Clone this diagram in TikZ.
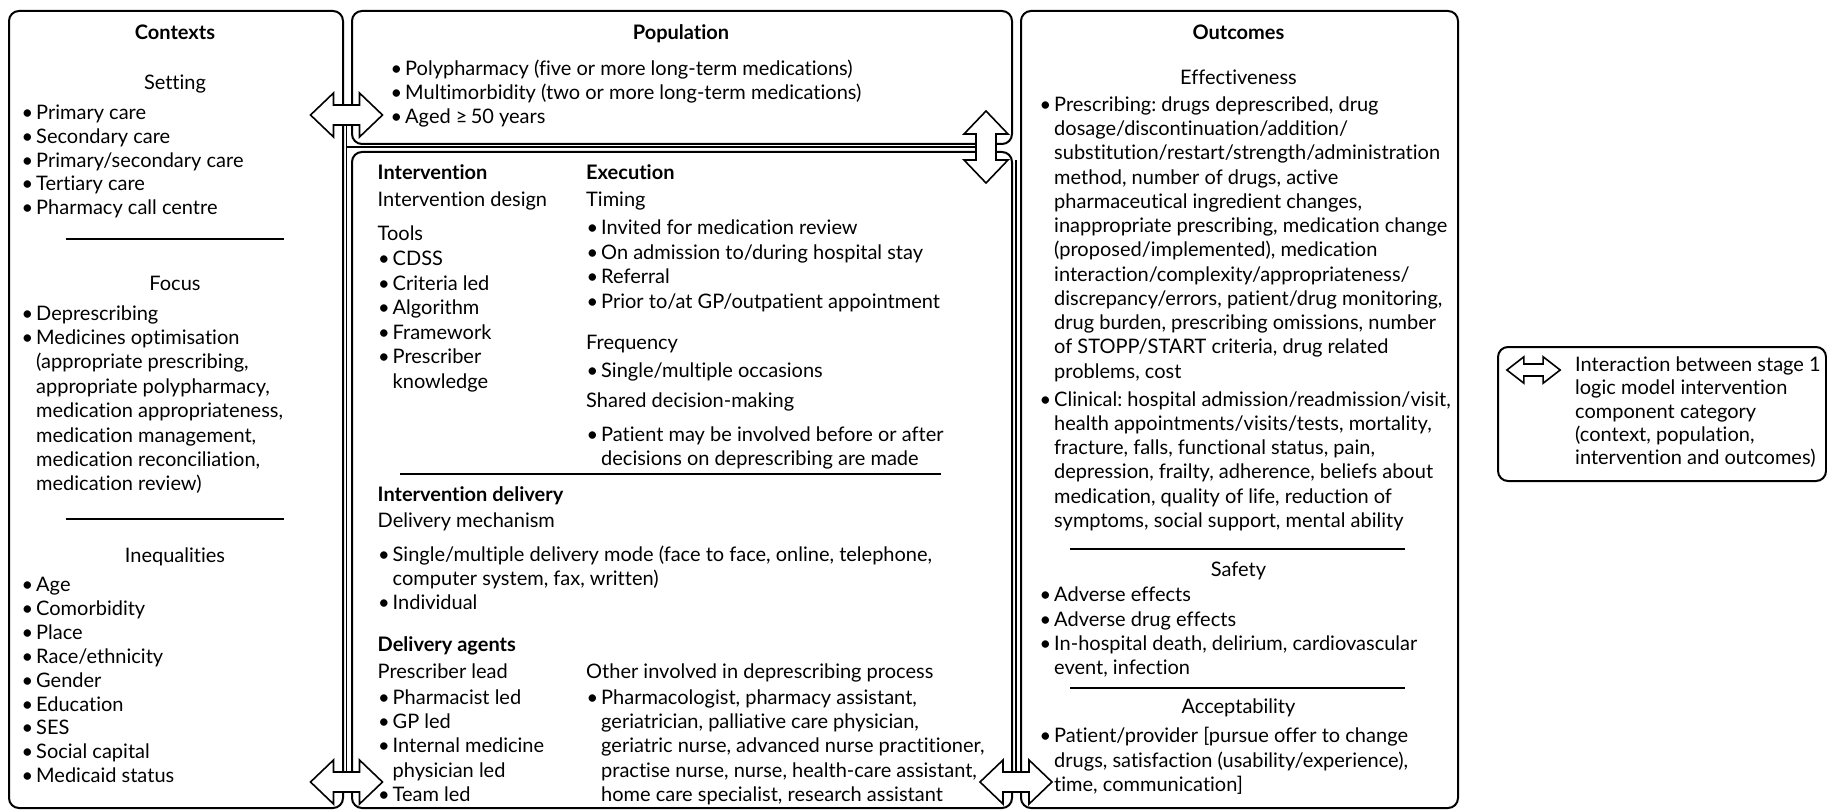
\documentclass[tikz,border=0pt]{standalone}
\usepackage{fontspec}
\setmainfont{Lato}[Ligatures=NoCommon]
\frenchspacing

\newcommand\bodysize{\fontsize{20}{24}\selectfont}
\newcommand\bulit{\makebox[14.5pt][l]{\textbullet}}
\newcommand\indt{\hspace*{14.5pt}}

\tikzset{
  panel/.style={draw, line width=2pt, rounded corners=10pt, anchor=north west,
    inner sep=0pt},
  txt/.style={anchor=base west, inner sep=0pt, font=\bodysize},
  bhead/.style={anchor=base west, inner sep=0pt, font=\bodysize\bfseries},
  head/.style={anchor=base, inner sep=0pt, font=\bodysize\bfseries},
  sub/.style={anchor=base, inner sep=0pt, font=\bodysize},
  rulel/.style={line width=2pt},
  tube/.style={line width=1.6pt},
  arrowshape/.style={draw, fill=white, line width=1.6pt, line join=miter},
  pics/dblarrow/.style={code={
    \draw[arrowshape] (-36,0) -- (-13,-22) -- (-13,-10) -- (13,-10) -- (13,-22)
      -- (36,0) -- (13,22) -- (13,10) -- (-13,10) -- (-13,22) -- cycle;
  }}
}

% one text node per line: name prefix, x, first baseline, line spacing, lines separated by |
\ExplSyntaxOn
\NewDocumentCommand \textlines { m m m m m }
 {
  \seq_set_split:Nnn \l_tmpa_seq { | } { #5 }
  \seq_map_indexed_inline:Nn \l_tmpa_seq
   { \node [txt] (#1-##1) at (#2,#3+#4*##1-#4) {##2}; }
 }
\ExplSyntaxOff

\begin{document}
\begin{tikzpicture}[x=1pt,y=-1pt]
\useasboundingbox (0,0) rectangle (1827,810);

% panels
\node[panel, minimum width=334pt, minimum height=797pt] (ctx) at (8,10) {};
\node[panel, minimum width=660pt, minimum height=133pt] (pop) at (351,10) {};
\node[panel, minimum width=660pt, minimum height=656pt] (intv) at (351,151) {};
\node[panel, minimum width=437pt, minimum height=797pt] (outc) at (1020,10) {};
\node[panel, minimum width=328pt, minimum height=134pt] (legend) at (1497,346) {};

% contexts
\node[head] (ctx-title) at (175,40) {Contexts};
\node[sub] (ctx-set) at (175,90) {Setting};
\textlines{set}{21.5}{119.5}{23.8}{\bulit Primary care|\bulit Secondary care|\bulit Primary/secondary care|\bulit Tertiary care|\bulit Pharmacy call centre}
\draw[rulel] (66,239) -- (284,239);
\node[sub] (ctx-foc) at (175,290) {Focus};
\textlines{foc}{21.5}{320}{24.4}{\bulit Deprescribing|\bulit Medicines optimisation|\indt (appropriate prescribing,|\indt appropriate polypharmacy,|\indt medication appropriateness,|\indt medication management,|\indt medication reconciliation,|\indt medication review)}
\draw[rulel] (66,519) -- (284,519);
\node[sub] (ctx-ineq) at (175,562.5) {Inequalities};
\textlines{ineq}{21.5}{591.5}{23.9}{\bulit Age|\bulit Comorbidity|\bulit Place|\bulit Race/ethnicity|\bulit Gender|\bulit Education|\bulit SES|\bulit Social capital|\bulit Medicaid status}

% population
\node[head] (pop-title) at (681,40) {Population};
\textlines{popl}{390.5}{76}{24}{\bulit Polypharmacy (five or more long-term medications)|\bulit Multimorbidity (two or more long-term medications)|\bulit Aged ≥\,50 years}

% intervention: design and execution
\node[bhead] (int-h) at (377.5,180) {Intervention};
\node[txt] (int-d) at (377.5,207) {Intervention design};
\node[txt] (int-t) at (377.5,240.5) {Tools};
\textlines{tools}{378}{265.5}{24.5}{\bulit CDSS|\bulit Criteria led|\bulit Algorithm|\bulit Framework|\bulit Prescriber|\indt knowledge}
\node[bhead] (exe-h) at (586,180) {Execution};
\node[txt] (exe-t) at (586,207) {Timing};
\textlines{timing}{586.5}{235}{24.4}{\bulit Invited for medication review|\bulit On admission to/during hospital stay|\bulit Referral|\bulit Prior to/at GP/outpatient appointment}
\node[txt] (exe-f) at (586,349) {Frequency};
\node[txt] (exe-fi) at (586.5,377) {\bulit Single/multiple occasions};
\node[txt] (exe-s) at (586,407.3) {Shared decision-making};
\textlines{sdm}{586.5}{441}{24.6}{\bulit Patient may be involved before or after|\indt decisions on deprescribing are made}
\draw[rulel] (400,474) -- (941,474);

% intervention: delivery
\node[bhead] (del-h) at (377.5,501.7) {Intervention delivery};
\node[txt] (del-m) at (377.5,527.3) {Delivery mechanism};
\textlines{mech}{378}{561}{24.2}{\bulit Single/multiple delivery mode (face to face, online, telephone,|\indt computer system, fax, written)|\bulit Individual}
\node[bhead] (agt-h) at (377.5,651) {Delivery agents};
\node[txt] (agt-p) at (377.5,678.8) {Prescriber lead};
\textlines{lead}{378}{704.5}{24.2}{\bulit Pharmacist led|\bulit GP led|\bulit Internal medicine|\indt physician led|\bulit Team led}
\node[txt] (agt-o) at (586,678.8) {Other involved in deprescribing process};
\textlines{oth}{586.5}{704.5}{24.2}{\bulit Pharmacologist, pharmacy assistant,|\indt geriatrician, palliative care physician,|\indt geriatric nurse, advanced nurse practitioner,|\indt practise nurse, nurse, health-care assistant,|\indt home care specialist, research assistant}

% outcomes
\node[head] (out-title) at (1238.5,40) {Outcomes};
\node[sub] (out-eff) at (1238.5,84.5) {Effectiveness};
\textlines{presc}{1039.5}{111.4}{24.25}{\bulit Prescribing: drugs deprescribed, drug|\indt dosage/discontinuation/addition/|\indt substitution/restart/strength/administration|\indt method, number of drugs, active|\indt pharmaceutical ingredient changes,|\indt inappropriate prescribing, medication change|\indt (proposed/implemented), medication|\indt interaction/complexity/appropriateness/|\indt discrepancy/errors, patient/drug monitoring,|\indt drug burden, prescribing omissions, number|\indt of STOPP/START criteria, drug related|\indt problems, cost}
\textlines{clin}{1039.5}{406.2}{24.2}{\bulit Clinical: hospital admission/readmission/visit,|\indt health appointments/visits/tests, mortality,|\indt fracture, falls, functional status, pain,|\indt depression, frailty, adherence, beliefs about|\indt medication, quality of life, reduction of|\indt symptoms, social support, mental ability}
\draw[rulel] (1070,549) -- (1405,549);
\node[sub] (out-saf) at (1238.5,576.3) {Safety};
\textlines{saf}{1039.5}{601.9}{24.2}{\bulit Adverse effects|\bulit Adverse drug effects|\bulit In-hospital death, delirium, cardiovascular|\indt event, infection}
\draw[rulel] (1070,687.5) -- (1405,687.5);
\node[sub] (out-acc) at (1238.5,713.8) {Acceptability};
\textlines{acc}{1039.5}{742.9}{24.4}{\bulit Patient/provider [pursue offer to change|\indt drugs, satisfaction (usability/experience),|\indt time, communication]}

% legend
\textlines{leg}{1575}{371.6}{23.3}{Interaction between stage 1|logic model intervention|component category|(context, population,|intervention and outcomes)}

% interaction tubes
\coordinate (tl) at (346.5,115);
\coordinate (bl) at (346.5,782);
\coordinate (jn) at (346.5,147);
\coordinate (tr) at (986,147);
\coordinate (rs) at (1016,160);
\coordinate (br) at (1016,782);
\draw[tube] (tl) -- (bl);
\draw[tube] (jn) -- (tr);
\draw[tube] (rs) -- (br);

% interaction arrows
\pic at (tl) {dblarrow};
\pic at (bl) {dblarrow};
\pic[rotate=90] at (tr) {dblarrow};
\pic at (br) {dblarrow};
\pic[xscale=0.74, yscale=0.6] at (1533.5,370) {dblarrow};
\end{tikzpicture}
\end{document}
